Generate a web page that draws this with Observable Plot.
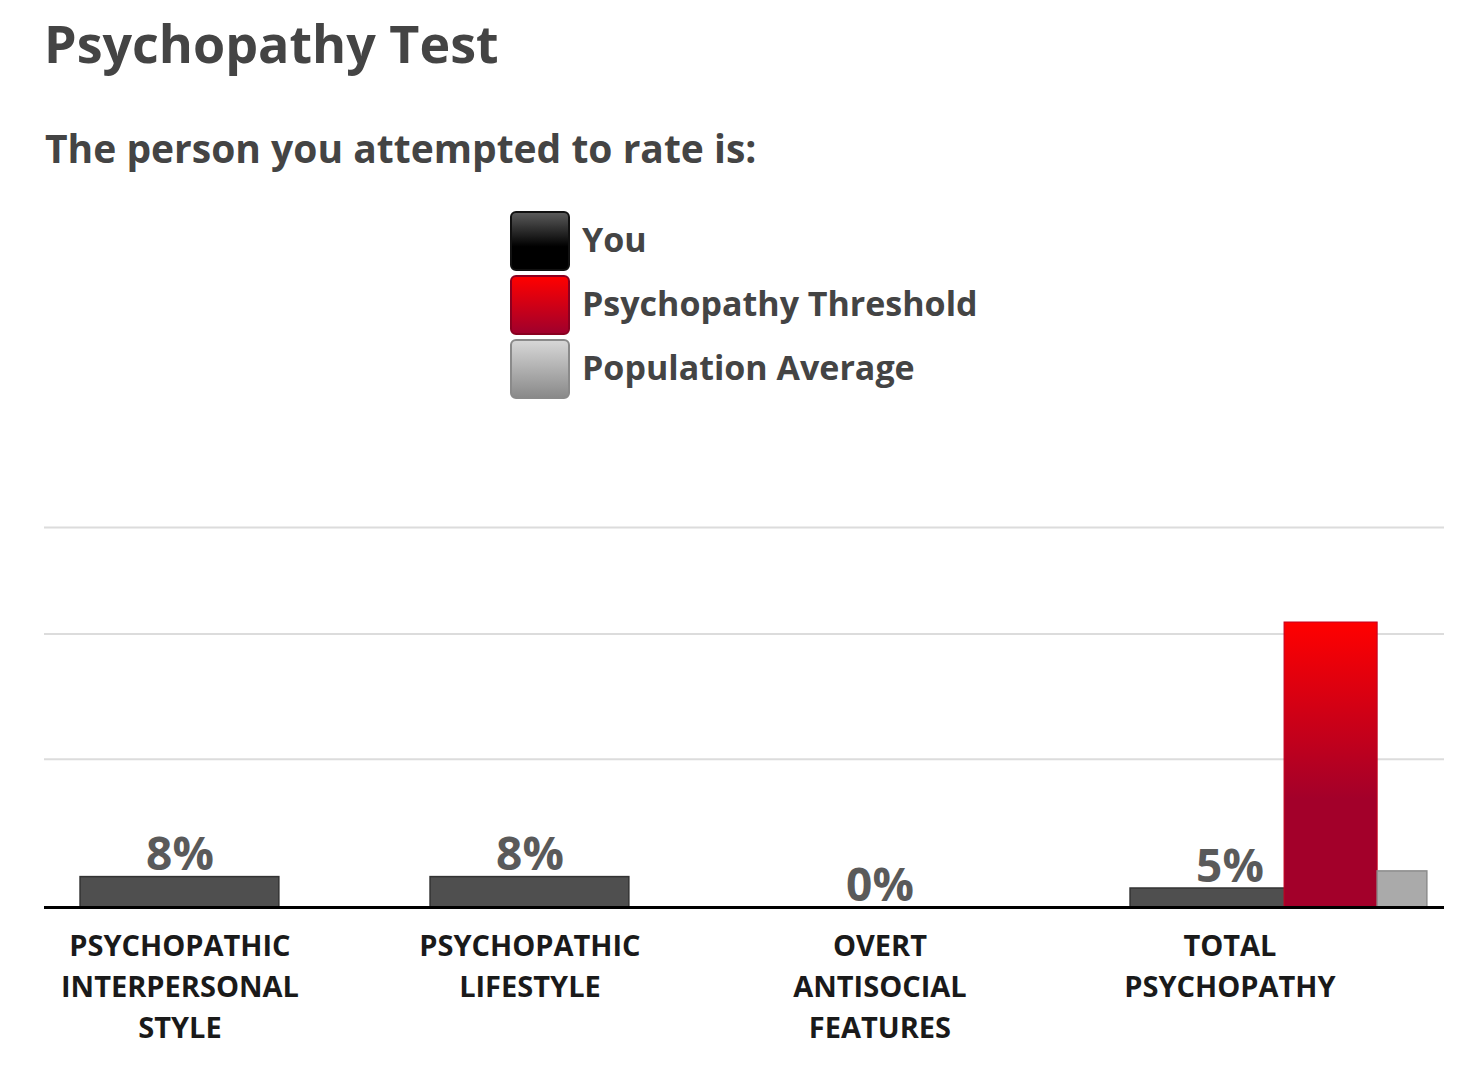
<!DOCTYPE html>
<html>
<head>
<meta charset="utf-8">
<script src="https://cdn.jsdelivr.net/npm/d3@7"></script>
<script src="https://cdn.jsdelivr.net/npm/@observablehq/plot@0.6"></script>
<style>
  html, body { margin: 0; padding: 0; background: #fff; }
  body { width: 1476px; height: 1076px; position: relative; overflow: hidden; font-family: "Open Sans", sans-serif; color: #444; }
  .title { position: absolute; left: 44px; top: 17px; font-size: 52px; line-height: 52px; font-weight: 700; white-space: nowrap; }
  .subtitle { position: absolute; left: 45px; top: 128px; font-size: 39px; line-height: 39px; font-weight: 700; white-space: nowrap; }
  .legend-item { position: absolute; left: 510px; height: 60px; display: flex; align-items: center; }
  .swatch { width: 56px; height: 56px; border-radius: 6px; border: 2px solid #222; box-sizing: content-box; }
  .legend-label { margin-left: 12px; font-size: 34px; font-weight: 700; color: #444; white-space: nowrap; position: relative; top: -2px; }
  #chart { position: absolute; left: 0; top: 480px; }
</style>
</head>
<body>
<div class="title">Psychopathy Test</div>
<div class="subtitle">The person you attempted to rate is:</div>
<div id="legend"></div>
<div id="chart"></div>
<script>
// ---- data ----
const categories = ["PSYCHOPATHIC INTERPERSONAL STYLE", "PSYCHOPATHIC LIFESTYLE", "OVERT ANTISOCIAL FEATURES", "TOTAL PSYCHOPATHY"];
const youValues = [8, 8, 0, 5];
const youLabels = ["8%", "8%", "0%", "5%"];
const thresholdValues = [null, null, null, 75];
const populationValues = [null, null, null, 9.5];
const gridValues = [39, 72, 100];
const legendNames = ["You", "Psychopathy Threshold", "Population Average"];

// ---- legend ----
const swatchStyles = [
  {bg: "linear-gradient(#5a5a5a 0%, #000 60%, #000 100%)", border: "#111"},
  {bg: "linear-gradient(#ff0000 0%, #a0002c 100%)", border: "#8a0020"},
  {bg: "linear-gradient(#d6d6d6 0%, #8a8a8a 100%)", border: "#8a8a8a"}
];
const legend = document.getElementById("legend");
legendNames.forEach((name, k) => {
  const item = document.createElement("div");
  item.className = "legend-item";
  item.style.top = (211 + k * 64) + "px";
  const sw = document.createElement("div");
  sw.className = "swatch";
  sw.style.background = swatchStyles[k].bg;
  sw.style.borderColor = swatchStyles[k].border;
  const lab = document.createElement("div");
  lab.className = "legend-label";
  lab.textContent = name;
  item.appendChild(sw);
  item.appendChild(lab);
  legend.appendChild(item);
});

// ---- chart data tables ----
const rows = categories.map((c, i) => ({
  i, category: c, you: youValues[i], label: youLabels[i],
  threshold: thresholdValues[i], population: populationValues[i]
}));

const font = "Open Sans";
const chart = Plot.plot({
  width: 1476,
  height: 580,
  marginLeft: 44,
  marginRight: 32,
  marginTop: 47,
  marginBottom: 153,
  x: {type: "linear", domain: [0, 4], axis: null},
  y: {domain: [0, 100], axis: null},
  style: {fontFamily: font, background: "transparent", overflow: "visible"},
  marks: [
    Plot.ruleY(gridValues, {stroke: "#dcdcdc", strokeWidth: 2}),
    Plot.rect(rows.filter(d => d.you > 0), {
      x1: d => d.i + 0.103, x2: d => d.i + 0.671, y1: 0, y2: "you",
      fill: "#4f4f4f", stroke: "#333", strokeWidth: 1.5
    }),
    Plot.rect(rows.filter(d => d.threshold != null), {
      x1: d => d.i + 0.543, x2: d => d.i + 0.809, y1: 0, y2: "threshold",
      fill: "url(#gradRed)", stroke: "#c40020", strokeWidth: 1
    }),
    Plot.rect(rows.filter(d => d.population != null), {
      x1: d => d.i + 0.809, x2: d => d.i + 0.951, y1: 0, y2: "population",
      fill: "#aaaaaa", stroke: "#8c8c8c", strokeWidth: 1.5
    }),
    Plot.ruleY([0], {stroke: "#000", strokeWidth: 3}),
    Plot.text(rows, {
      x: d => d.i + 0.387, y: "you", text: "label", dy: -7, lineAnchor: "bottom",
      fontSize: 46, fontWeight: 700, fill: "#5a5a5a", fontFamily: font
    }),
    Plot.text(rows, {
      x: d => d.i + 0.387, y: 0, text: d => d.category.split(" ").join("\n"),
      dy: 19, lineAnchor: "top", lineHeight: 1.42,
      fontSize: 29, fontWeight: 700, fill: "#1a1a1a", fontFamily: font
    })
  ]
});

d3.select(chart).insert("defs", ":first-child").html(
  '<linearGradient id="gradRed" x1="0" y1="0" x2="0" y2="1">' +
  '<stop offset="0%" stop-color="#ff0000"/>' +
  '<stop offset="62%" stop-color="#a3002a"/>' +
  '<stop offset="100%" stop-color="#a3002a"/>' +
  '</linearGradient>'
);

document.getElementById("chart").appendChild(chart);
</script>
</body>
</html>
